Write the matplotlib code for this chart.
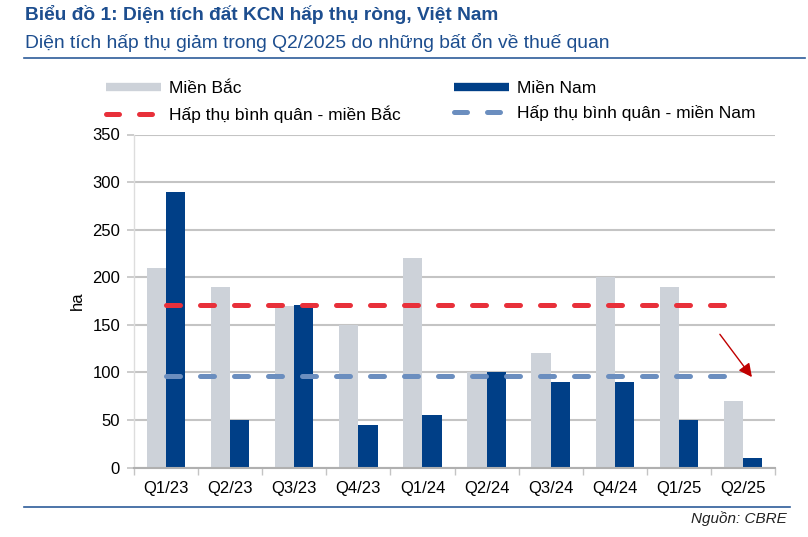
import matplotlib.pyplot as plt
import numpy as np
from matplotlib.lines import Line2D

plt.rcParams['font.family'] = ['Liberation Sans', 'DejaVu Sans']

# du lieu
quarters = ['Q1/23', 'Q2/23', 'Q3/23', 'Q4/23', 'Q1/24', 'Q2/24', 'Q3/24', 'Q4/24', 'Q1/25', 'Q2/25']
mien_bac = [210, 190, 170, 150, 220, 100, 120, 200, 190, 70]
mien_nam = [290, 50, 171, 45, 55, 100, 90, 90, 50, 10]
tb_bac = 171
tb_nam = 96

# mau
c_bac = '#CDD2D9'
c_nam = '#003F87'
c_tb_bac = '#E8303A'
c_tb_nam = '#6B8EBF'
c_title = '#1D4E8F'
c_grid = '#C4C4C4'

fig = plt.figure(figsize=(8.08, 5.37), dpi=100)
ax = fig.add_axes([134 / 808, 1 - 467.5 / 537, (775 - 134) / 808, (467.5 - 134.5) / 537])

x = np.arange(len(quarters))
w = 0.3
ax.bar(x - w / 2, mien_bac, width=w, color=c_bac, zorder=2, label='Miền Bắc')
ax.bar(x + w / 2, mien_nam, width=w, color=c_nam, zorder=2, label='Miền Nam')

# duong binh quan
ax.plot([x[0], x[-1]], [tb_bac, tb_bac], color=c_tb_bac, lw=3.6,
        dashes=(2.8, 4.0), dash_capstyle='round', zorder=3)
ax.plot([x[0], x[-1]], [tb_nam, tb_nam], color=c_tb_nam, lw=3.6,
        dashes=(2.8, 4.0), dash_capstyle='round', zorder=3)

# mui ten
arrow_start = (8.64, 140)
arrow_end = (9.14, 95)
ax.annotate('', xy=arrow_end, xytext=arrow_start,
            arrowprops=dict(arrowstyle='-|>', color='#C00000', lw=1.0, mutation_scale=20,
                            shrinkA=0, shrinkB=0), zorder=4)

ax.set_xlim(-0.5, len(quarters) - 0.5)
ax.set_ylim(0, 350)
ax.set_yticks(np.arange(0, 351, 50))
ax.set_xticks(x)
ax.set_xticklabels(quarters)
ax.set_xticks(np.arange(-0.5, len(quarters), 1), minor=True)
ax.tick_params(axis='x', which='major', length=0, pad=10, labelsize=12)
ax.tick_params(axis='x', which='minor', length=5, color=c_grid, width=1)
ax.tick_params(axis='y', length=5, color=c_grid, width=1.2, pad=5, labelsize=12)
ax.grid(axis='y', color=c_grid, lw=1.5, zorder=0)
ax.set_ylabel('ha', fontsize=12, labelpad=5)

for s in ['top', 'right']:
    ax.spines[s].set_visible(False)
ax.spines['left'].set_color('#DDDDDD')
ax.spines['left'].set_linewidth(1)
ax.spines['bottom'].set_color('#B0B0B0')
ax.spines['bottom'].set_linewidth(1.5)

# chu giai
handles = [
    Line2D([], [], color=c_bac, lw=6, solid_capstyle='butt'),
    Line2D([], [], color=c_tb_bac, lw=3.6, dashes=(2.6, 4.0), dash_capstyle='round'),
    Line2D([], [], color=c_nam, lw=6, solid_capstyle='butt'),
    Line2D([], [], color=c_tb_nam, lw=3.6, dashes=(2.6, 4.0), dash_capstyle='round'),
]
labels = ['Miền Bắc', 'Hấp thụ bình quân - miền Bắc', 'Miền Nam', 'Hấp thụ bình quân - miền Nam']
fig.legend(handles, labels, ncol=2, loc='upper left', bbox_to_anchor=(106 / 808, 1 - 81 / 537),
           frameon=False, fontsize=12.5, handlelength=3.17, handletextpad=0.46,
           columnspacing=3.05, labelspacing=0.52, borderpad=0, borderaxespad=0)

# tieu de
fig.text(25 / 808, 1 - 14 / 537, 'Biểu đồ 1: Diện tích đất KCN hấp thụ ròng, Việt Nam',
         fontsize=13.8, fontweight='bold', color=c_title, va='center', ha='left')
fig.text(25 / 808, 1 - 43 / 537, 'Diện tích hấp thụ giảm trong Q2/2025 do những bất ổn về thuế quan',
         fontsize=13.9, color=c_title, va='center', ha='left')
fig.add_artist(Line2D([24 / 808, 805 / 808], [1 - 58 / 537, 1 - 58 / 537], color='#2E5C9A', lw=1.2))
fig.add_artist(Line2D([24 / 808, 790 / 808], [1 - 507 / 537, 1 - 507 / 537], color='#2E5C9A', lw=1.2))
fig.text(787 / 808, 1 - 519 / 537, 'Nguồn: CBRE', fontsize=11, style='italic',
         color='#222222', va='center', ha='right')

plt.savefig('out.png', dpi=100)
